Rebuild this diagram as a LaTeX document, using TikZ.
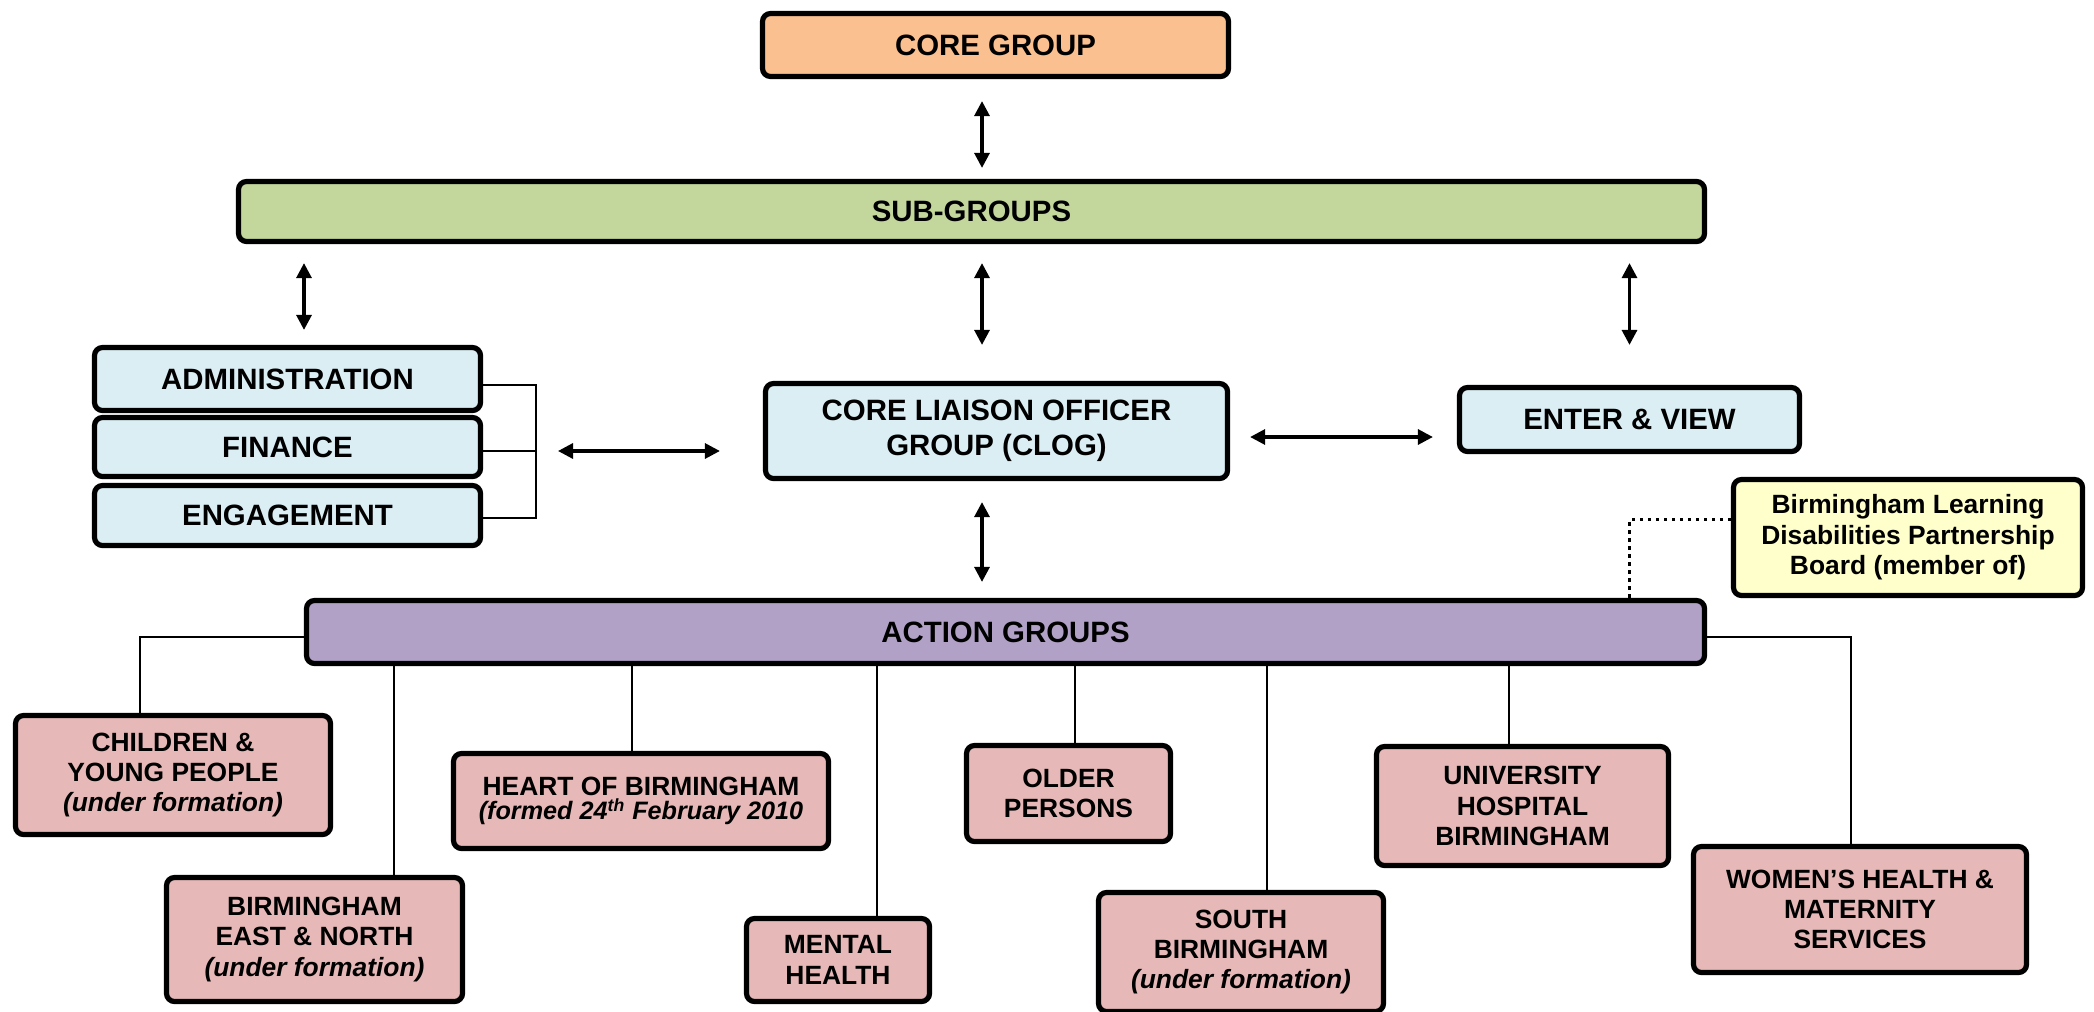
\documentclass[tikz,border=0pt]{standalone}
\usepackage{fontspec}
\setmainfont{Liberation Sans}
\usetikzlibrary{arrows.meta}
\definecolor{coreorange}{HTML}{FAC090}
\definecolor{subgreen}{HTML}{C3D69B}
\definecolor{liaisonblue}{HTML}{DBEEF4}
\definecolor{boardyellow}{HTML}{FFFFCC}
\definecolor{actionpurple}{HTML}{B2A1C7}
\definecolor{grouppink}{HTML}{E6B9B8}
\begin{document}
\begin{tikzpicture}[x=0.5pt,y=-0.5pt,
		grp/.style={draw,line width=2.6pt,rounded corners=4pt,align=center,inner sep=0pt,
			font=\bfseries\fontsize{14.7}{17.4}\selectfont},
		blue/.style={grp,fill=liaisonblue},
		pink/.style={grp,fill=grouppink,font=\bfseries\fontsize{13.2}{15.2}\selectfont},
		dbl/.style={{Triangle[length=7.5pt,width=7.5pt]}-{Triangle[length=7.5pt,width=7.5pt]},line width=1.6pt},
		link/.style={line width=1.2pt}]
	\useasboundingbox (0,0) rectangle (2094,1012);
	% top of the chart
	\node[grp,fill=coreorange,minimum width=233pt,minimum height=31.5pt] (core) at (995.5,45) {CORE GROUP};
	\node[grp,fill=subgreen,minimum width=733pt,minimum height=30pt] (sub) at (971.5,211.5) {SUB-GROUPS};
	\node[blue,minimum width=193pt,minimum height=31.5pt] (admin) at (287.5,379) {ADMINISTRATION};
	\node[blue,minimum width=193pt,minimum height=29.5pt] (fin) at (287.5,447) {FINANCE};
	\node[blue,minimum width=193pt,minimum height=30pt] (eng) at (287.5,515.5) {ENGAGEMENT};
	\node[blue,minimum width=231pt,minimum height=47.5pt] (clog) at (996.5,431) {CORE LIAISON OFFICER\\GROUP (CLOG)};
	\node[blue,minimum width=170pt,minimum height=32pt] (ev) at (1629.5,419.5) {ENTER \& VIEW};
	\node[pink,fill=boardyellow,minimum width=174.5pt,minimum height=58pt] (board) at (1908,537.5) {Birmingham Learning\\Disabilities Partnership\\Board (member of)};
	\node[grp,fill=actionpurple,minimum width=699pt,minimum height=31.5pt] (action) at (1005.5,632) {ACTION GROUPS};
	% action groups
	\node[pink,minimum width=157.5pt,minimum height=59.5pt] (child) at (173,775) {CHILDREN \&\\YOUNG PEOPLE\\\textit{(under formation)}};
	\node[pink,minimum width=148pt,minimum height=62pt] (east) at (314.5,939.5) {BIRMINGHAM\\EAST \& NORTH\\\textit{(under formation)}};
	\node[pink,minimum width=187.5pt,minimum height=47.5pt] (heart) at (641,801) {HEART OF BIRMINGHAM\\[-3pt]{\fontsize{12.6}{14}\selectfont\itshape (formed 24\textsuperscript{th} February 2010}};
	\node[pink,minimum width=91.5pt,minimum height=41.5pt] (mental) at (838,960) {MENTAL\\HEALTH};
	\node[pink,minimum width=102pt,minimum height=48pt] (older) at (1068.5,793.5) {OLDER\\PERSONS};
	\node[pink,minimum width=142.5pt,minimum height=59.5pt] (south) at (1241,952) {SOUTH\\BIRMINGHAM\\\textit{(under formation)}};
	\node[pink,minimum width=146pt,minimum height=59.5pt] (univ) at (1522.5,806) {UNIVERSITY\\HOSPITAL\\BIRMINGHAM};
	\node[pink,minimum width=166.5pt,minimum height=63pt] (women) at (1860,909.5) {WOMEN’S HEALTH \&\\MATERNITY\\SERVICES};
	% arrows
	\coordinate (mid) at (982,0);
	\coordinate (brk) at (536,451);
	\coordinate (rr) at (0,437);
	\draw[dbl,shorten <=11pt,shorten >=5.5pt] (core.south -| mid) -- (sub.north -| mid);
	\draw[dbl,shorten <=9.5pt,shorten >=7.5pt] (sub.south -| 304,0) -- (admin.north -| 304,0);
	\draw[dbl,shorten <=9.5pt,shorten >=18pt] (sub.south -| mid) -- (clog.north -| mid);
	\draw[dbl,shorten <=9.5pt,shorten >=20pt] (sub.south -| ev.north) -- (ev.north);
	\draw[dbl,shorten <=11pt,shorten >=21.5pt] (brk) -- (brk -| clog.west);
	\draw[dbl,shorten <=10pt,shorten >=12pt] (clog.east |- rr) -- (ev.west |- rr);
	\draw[dbl,shorten <=10.5pt,shorten >=8pt] (clog.south -| mid) -- (action.north -| mid);
	% bracket and links
	\draw[link] (admin.east |- 0,385) -| (brk) |- (eng.east |- 0,518);
	\draw[link] (fin.east |- brk) -- (brk);
	\draw[line width=1.7pt,dash pattern=on 1.7pt off 2.3pt] ([yshift=9pt]board.west) -| (action.north -| ev.south);
	\draw[link] (action.west |- 0,637) -| (child.north -| 140,0);
	\draw[link] (action.east |- 0,637) -| (women.north -| 1851,0);
	\draw[link] (action.south -| 394,0) -- (east.north -| 394,0);
	\draw[link] (action.south -| 632,0) -- (heart.north -| 632,0);
	\draw[link] (action.south -| 877,0) -- (mental.north -| 877,0);
	\draw[link] (action.south -| 1075,0) -- (older.north -| 1075,0);
	\draw[link] (action.south -| 1267,0) -- (south.north -| 1267,0);
	\draw[link] (action.south -| 1509,0) -- (univ.north -| 1509,0);
\end{tikzpicture}
\end{document}
